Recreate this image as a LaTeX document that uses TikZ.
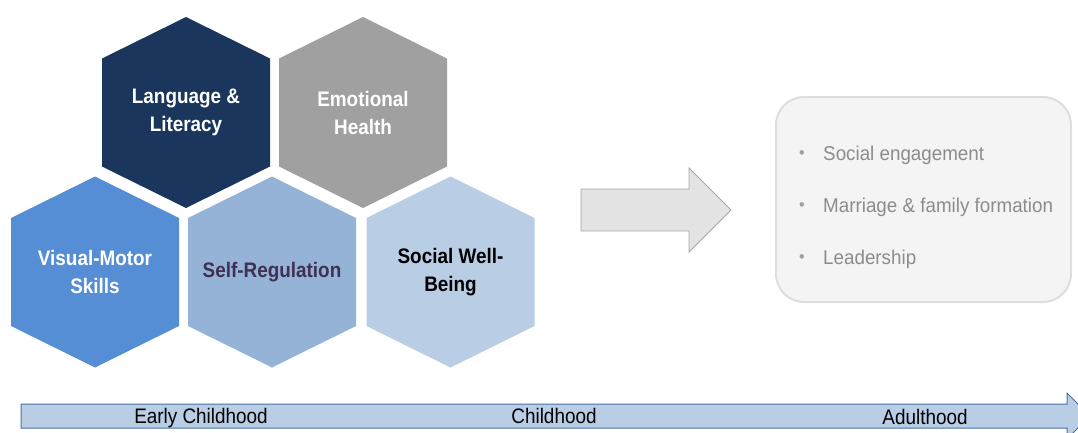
\documentclass[tikz,border=0pt]{standalone}
\usepackage{fontspec}
\setmainfont{Liberation Sans}
\newfontfamily\narrowfont[FakeStretch=0.9]{Liberation Sans}
\newfontfamily\listfont[FakeStretch=0.94]{Liberation Sans}
\usetikzlibrary{positioning}

\definecolor{navyhex}{HTML}{1B365D}
\definecolor{grayhex}{HTML}{A0A0A0}
\definecolor{motorhex}{HTML}{558ED5}
\definecolor{regulhex}{HTML}{95B3D7}
\definecolor{socialhex}{HTML}{B9CDE5}
\definecolor{regultext}{HTML}{403152}
\definecolor{arrowfill}{HTML}{E3E3E3}
\definecolor{arrowline}{HTML}{A6A6A6}
\definecolor{boxfill}{HTML}{F4F4F4}
\definecolor{boxline}{HTML}{DEDEDE}
\definecolor{itemtext}{HTML}{8C8C8C}
\definecolor{itembullet}{HTML}{A0A0A0}
\definecolor{timeline}{HTML}{4A6FA5}

\begin{document}
\begin{tikzpicture}[x=1pt,y=-1pt,
		hex label/.style={font={\narrowfont\bfseries\fontsize{21}{28}\selectfont},align=center,inner sep=0pt},
		outcome box/.style={draw=boxline,line width=2pt,fill=boxfill,rounded corners=28pt,minimum width=295pt,minimum height=205pt,inner sep=0pt},
		outcome item/.style={anchor=base west,inner sep=0pt,text=itemtext,font={\listfont\fontsize{20}{24}\selectfont}},
		stage label/.style={anchor=base,inner sep=0pt,font={\narrowfont\fontsize{21}{24}\selectfont}},
		big arrow/.style={fill=arrowfill,draw=arrowline,line width=0.8pt},
		life arrow/.style={fill=socialhex,draw=timeline,line width=1pt}]

		\useasboundingbox (0,0) rectangle (1078,432);

		\foreach \cx/\cy/\hexname/\hexcol/\txtcol/\hextext in {
				186/112.5/lang/navyhex/white/{Language \&\\Literacy},
				363/112.5/emotion/grayhex/white/{Emotional\\Health},
				95/272/motor/motorhex/white/{Visual-Motor\\Skills},
				272/272/regul/regulhex/regultext/{Self-Regulation},
				450.5/272/social/socialhex/black/{Social Well-\\Being}}{
			\fill [\hexcol] (\cx,\cy) ++(0,-95.5) -- ++(84,41.5) -- ++(0,108) -- ++(-84,41.5)
				-- ++(-84,-41.5) -- ++(0,-108) -- cycle;
			\node [hex label, text=\txtcol] (\hexname) at (\cx,\cy) {\hextext};
		}

		\draw [big arrow] (581,189) -- (689,189) -- (689,168) -- (731,210) -- (689,252)
			-- (689,231) -- (581,231) -- cycle;

		\node [outcome box] (outcomes) at (923.5,199.5) {};
		\node [outcome item] (engage) at (799,160)
			{\makebox[24pt][l]{\textcolor{itembullet}{\fontsize{17}{17}\selectfont\raisebox{1.5pt}{\textbullet}}}Social engagement};
		\node [outcome item] (family) at (799,212)
			{\makebox[24pt][l]{\textcolor{itembullet}{\fontsize{17}{17}\selectfont\raisebox{1.5pt}{\textbullet}}}Marriage \& family formation};
		\node [outcome item] (lead) at (799,264)
			{\makebox[24pt][l]{\textcolor{itembullet}{\fontsize{17}{17}\selectfont\raisebox{1.5pt}{\textbullet}}}Leadership};

		\begin{scope}
			\clip (0,0) rectangle (1078,432);
			\draw [life arrow] (21,404) -- (1067,404) -- (1067,393) -- (1090,416) -- (1067,439)
				-- (1067,428) -- (21,428) -- cycle;
		\end{scope}
		\node [stage label] (early) at (201,423) {Early Childhood};
		\node [stage label] (child) at (554,423) {Childhood};
		\node [stage label] (adult) at (925,424) {Adulthood};
	\end{tikzpicture}
\end{document}
